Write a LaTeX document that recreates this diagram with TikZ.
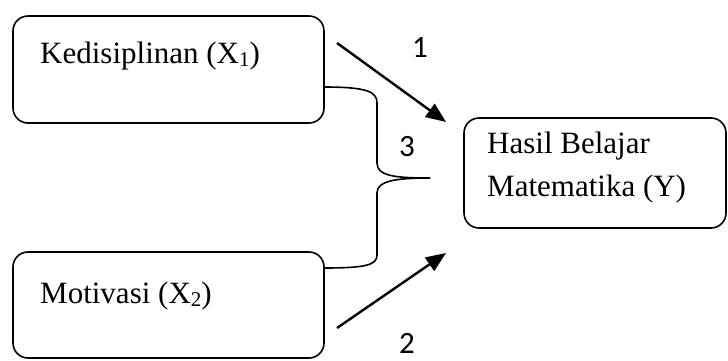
\documentclass[tikz,border=0pt]{standalone}
\usepackage{fontspec}
\setmainfont{Liberation Serif}
\newfontfamily\labfont{Carlito}
\usetikzlibrary{arrows.meta}
\begin{document}
\begin{tikzpicture}[x=1pt,y=-1pt,
  boxstyle/.style={draw,line width=1.6pt,rounded corners=15pt},
  txt/.style={anchor=base west,inner sep=0pt,font=\fontsize{31}{43}\selectfont},
  num/.style={inner sep=0pt,font=\labfont\fontsize{31}{34}\selectfont},
  arr/.style={line width=2.4pt,-{Triangle[length=20pt,width=16pt]}},
  bracestyle/.style={line width=1.6pt}]
\useasboundingbox (0,0) rectangle (728,360);
\clip (0,0) rectangle (728,360);
\newcommand{\subd}[1]{\raisebox{-0.12em}{\fontsize{21}{21}\selectfont #1}}
% boxes
\draw[boxstyle] (13,16) rectangle (324,123);
\node[inner sep=0pt] (b1) at (168.5,69.5) {};
\draw[boxstyle] (13,252) rectangle (324,358);
\node[inner sep=0pt] (b2) at (168.5,305) {};
\draw[boxstyle] (464,118) rectangle (726,228);
\node[inner sep=0pt] (by) at (595,173) {};
% texts
\node[txt] (t1) at (40,63) {Kedisiplinan (X\subd{1})};
\node[txt] (t2) at (40,303) {Motivasi (X\subd{2})};
\node[txt] (t3) at (487,153) {Hasil Belajar};
\node[txt] (t4) at (487,196) {Matematika (Y)};
% arrows
\coordinate (a1s) at (337,43);
\coordinate (a1e) at (446,122);
\coordinate (a2s) at (337,328);
\coordinate (a2e) at (446,253);
\draw[arr] (a1s) -- (a1e);
\draw[arr] (a2s) -- (a2e);
% brace
\coordinate (br1) at (324,87);
\coordinate (brt) at (430,178);
\coordinate (br2) at (324,268);
\draw[bracestyle] (br1) .. controls (368,87) and (377,92) .. (377,103)
  -- (377,163) .. controls (377,176) and (395,178) .. (brt);
\draw[bracestyle] (brt) .. controls (395,178) and (377,181) .. (377,193)
  -- (377,255) .. controls (377,265) and (366,268) .. (br2);
% labels
\node[num] (n1) at (420,48) {1};
\node[num] (n3) at (407,147) {3};
\node[num] (n2) at (407,343) {2};
\end{tikzpicture}
\end{document}
